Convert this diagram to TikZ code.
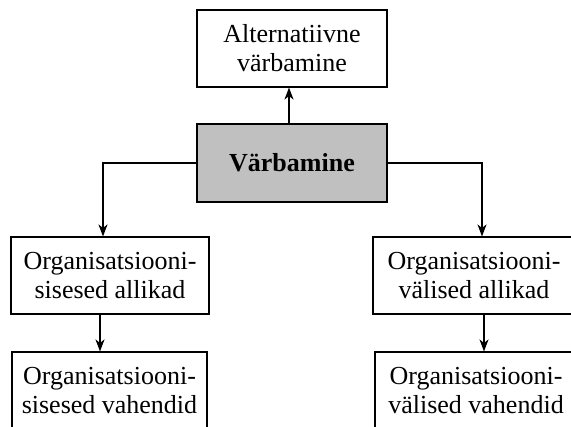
\documentclass[tikz,border=0pt]{standalone}
\usepackage{fontspec}
\setmainfont{Liberation Serif}
\usetikzlibrary{arrows.meta,calc}
\begin{document}
\begin{tikzpicture}[x=1pt,y=-1pt,
  box/.style={draw=black,line width=1.1pt,minimum width=190pt,minimum height=77pt,align=center,inner sep=0pt,
    font=\fontsize{26}{29}\selectfont},
  arr/.style={line width=1.1pt,-{Stealth[length=12pt,width=9pt,inset=3.5pt]}},
  ln/.style={line width=1.1pt}]
\useasboundingbox (0,0) rectangle (571,427);
\node[box] (top) at (292,48.5) {Alternatiivne\\värbamine};
\node[box,fill={rgb,255:red,192;green,192;blue,192},minimum height=78pt] (vb) at (292,163) {\textbf{Värbamine}};
\node[box,minimum width=198pt] (ml) at (110,275.5) {Organisatsiooni-\\sisesed allikad};
\node[box,minimum width=202pt] (mr) at (474,275.5) {Organisatsiooni-\\välised allikad};
\node[box,minimum width=195pt] (ll) at (109.5,390.5) {Organisatsiooni-\\sisesed vahendid};
\node[box,minimum width=202pt] (lr) at (476,390.5) {Organisatsiooni-\\välised vahendid};
\coordinate (ux) at (289,0);
\coordinate (lx) at (103,0);
\coordinate (rx) at (482,0);
\coordinate (lsx) at (100,0);
\coordinate (rsx) at (484,0);
\draw[arr] (vb.north -| ux) -- (top.south -| ux);
\draw[arr] (vb.west) -| (ml.north -| lx);
\draw[arr] (vb.east) -| (mr.north -| rx);
\draw[arr] (ml.south -| lsx) -- (ll.north -| lsx);
\draw[arr] (mr.south -| rsx) -- (lr.north -| rsx);
\end{tikzpicture}
\end{document}
